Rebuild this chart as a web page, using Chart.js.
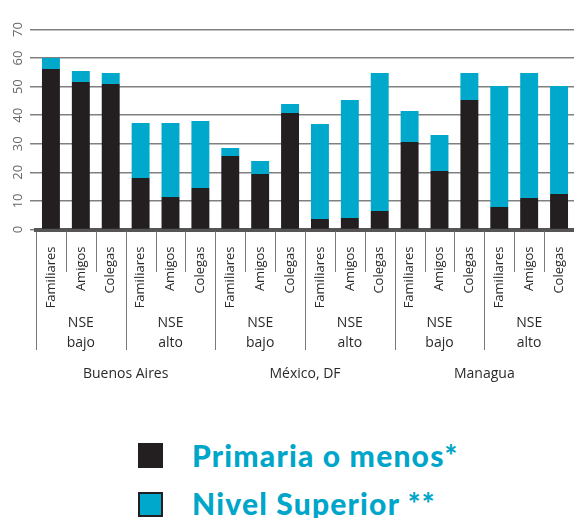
<!DOCTYPE html>
<html>
<head>
<meta charset="utf-8">
<script src="https://cdn.jsdelivr.net/npm/chart.js@4.4.1/dist/chart.umd.min.js"></script>
<style>
  body { margin: 0; background: #fff; }
  #wrap { position: relative; width: 574px; height: 518px; overflow: hidden; }
  #box { position: absolute; left: 0; top: 0; width: 574px; height: 400px; }
  .leg { position: absolute; left: 138px; font-family: Lato, sans-serif; font-weight: 900;
         font-size: 30px; line-height: 30px; color: #00a6c9; white-space: nowrap; letter-spacing: 1.2px; }
  .sw { position: absolute; left: 138px; width: 25px; height: 25px; box-sizing: border-box; }
  .leg span { position: absolute; left: 54px; top: 0; }
</style>
</head>
<body>
<div id="wrap">
  <div id="box"><canvas id="c"></canvas></div>
  <div class="sw" style="top:443px;background:#231f20;"></div>
  <div class="leg" style="top:440px;"><span>Primaria o menos*</span></div>
  <div class="sw" style="top:492px;background:#00a8cb;border:2px solid #231f20;"></div>
  <div class="leg" style="top:488px;"><span>Nivel Superior **</span></div>
</div>
<script>
const categories = [
  "Familiares", "Amigos", "Colegas", "Familiares", "Amigos", "Colegas",
  "Familiares", "Amigos", "Colegas", "Familiares", "Amigos", "Colegas",
  "Familiares", "Amigos", "Colegas", "Familiares", "Amigos", "Colegas"
];
const nseTop = ["NSE", "NSE", "NSE", "NSE", "NSE", "NSE"];
const nseBottom = ["bajo", "alto", "bajo", "alto", "bajo", "alto"];
const cities = ["Buenos Aires", "México, DF", "Managua"];

const primaria = [56.2, 51.6, 50.9, 18.0, 11.4, 14.5, 25.7, 19.4, 40.8, 3.7, 4.0, 6.5, 30.6, 20.5, 45.3, 7.9, 11.0, 12.4];
const superior = [3.8, 3.9, 3.9, 19.3, 25.9, 23.5, 2.8, 4.6, 3.1, 33.2, 41.3, 48.3, 10.9, 12.6, 9.5, 42.3, 43.8, 37.8];
const yTicks = [0, 10, 20, 30, 40, 50, 60, 70];

const labelFont = "Open Sans";

// separator lines + group labels under the axis
const groupLabels = {
  id: "groupLabels",
  afterDraw(chart) {
    const ctx = chart.ctx;
    const x = chart.scales.x;
    const bottom = chart.chartArea.bottom;
    const step = x.getPixelForValue(1) - x.getPixelForValue(0);
    ctx.save();
    ctx.strokeStyle = "#7a7a7a";
    ctx.lineWidth = 1;
    for (let i = 0; i < categories.length; i++) {
      const px = Math.round(x.getPixelForValue(i) - step / 2) + 0.5;
      ctx.beginPath();
      ctx.moveTo(px, bottom + 2);
      ctx.lineTo(px, i % 3 === 0 ? 350 : 272);
      ctx.stroke();
    }
    ctx.fillStyle = "#2a2a2a";
    ctx.textAlign = "center";
    ctx.textBaseline = "middle";
    ctx.font = "14px '" + labelFont + "'";
    for (let g = 0; g < nseTop.length; g++) {
      const cx = (x.getPixelForValue(g * 3) + x.getPixelForValue(g * 3 + 2)) / 2;
      ctx.fillText(nseTop[g], cx, 323);
      ctx.fillText(nseBottom[g], cx, 343);
    }
    for (let c = 0; c < cities.length; c++) {
      const cx = (x.getPixelForValue(c * 6) + x.getPixelForValue(c * 6 + 5)) / 2;
      ctx.fillText(cities[c], cx, 374);
    }
    ctx.restore();
  }
};

new Chart(document.getElementById("c"), {
  type: "bar",
  data: {
    labels: categories,
    datasets: [
      { label: "Primaria o menos*", data: primaria, backgroundColor: "#231f20" },
      { label: "Nivel Superior **", data: superior, backgroundColor: "#00a8cb" }
    ]
  },
  options: {
    responsive: true,
    maintainAspectRatio: false,
    animation: false,
    layout: { padding: { top: 29.5, right: 0, left: 0, bottom: 0 } },
    datasets: { bar: { barPercentage: 0.6, categoryPercentage: 1 } },
    plugins: { legend: { display: false }, tooltip: { enabled: false } },
    scales: {
      x: {
        stacked: true,
        grid: { display: false },
        border: { display: true, color: "#555", width: 4 },
        ticks: {
          minRotation: 90, maxRotation: 90, autoSkip: false, padding: 9,
          color: "#2a2a2a", font: { family: labelFont, size: 13 }
        },
        afterFit(scale) {
          scale.height = 170.5;
          scale.paddingLeft = 0;
          scale.paddingRight = 0;
        }
      },
      y: {
        stacked: true,
        min: 0, max: 70,
        afterBuildTicks(scale) { scale.ticks = yTicks.map(v => ({ value: v })); },
        grid: { color: "#808080", lineWidth: 1.5, tickLength: 6 },
        border: { display: false },
        ticks: {
          minRotation: 90, maxRotation: 90, crossAlign: "center", padding: 4,
          color: "#666", font: { family: labelFont, size: 13 }
        },
        afterFit(scale) { scale.width = 36; }
      }
    }
  },
  plugins: [groupLabels]
});
</script>
</body>
</html>
